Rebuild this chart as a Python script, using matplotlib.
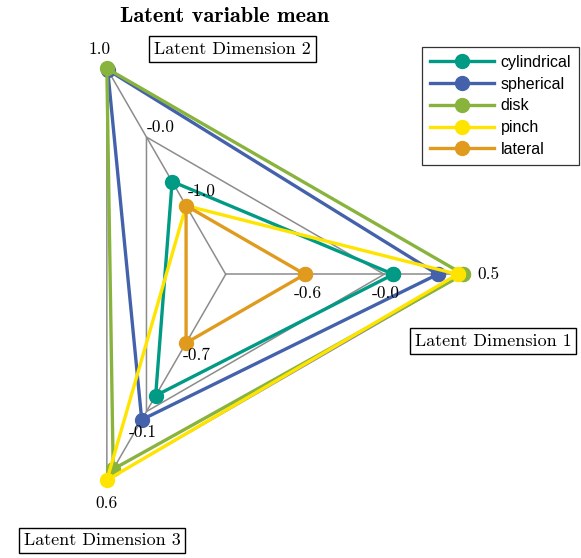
import matplotlib
matplotlib.use("Agg")
import matplotlib.pyplot as plt
import numpy as np

W, H, DPI = 581, 558, 100

axis_labels = ["Latent Dimension 1", "Latent Dimension 2", "Latent Dimension 3"]
axis_min = [-0.58, -0.97, -0.68]
axis_max = [0.53, 0.96, 0.57]

series = ["cylindrical", "spherical", "disk", "pinch", "lateral"]
values = {
    "cylindrical": [0.04, -0.63, -0.20],
    "spherical": [0.35, 0.94, 0.02],
    "disk": [0.53, 0.96, 0.47],
    "pinch": [0.49, -0.97, 0.57],
    "lateral": [-0.58, -0.97, -0.68],
}
colors = {
    "cylindrical": "#009A85",
    "spherical": "#4462AB",
    "disk": "#88B43D",
    "pinch": "#FFE400",
    "lateral": "#E09B1F",
}

# spider layout: centre in pixels, outer radius in pixels
cx, cy, R = 225.7, 274.3, 237.7
angles = np.deg2rad([0, 120, 240])
n_rings = 3  # inner ring (axis min), middle, outer (axis max)


def radius(v, i):
    frac = (v - axis_min[i]) / (axis_max[i] - axis_min[i])
    return (1 + frac * (n_rings - 1)) / n_rings


def to_xy(rs):
    rs = np.asarray(rs)
    return rs * np.cos(angles), rs * np.sin(angles)


fig = plt.figure(figsize=(W / DPI, H / DPI), dpi=DPI)
ax = fig.add_axes([0, 0, 1, 1])
ax.set_xlim(-cx / R, (W - cx) / R)
ax.set_ylim(-(H - cy) / R, cy / R)
ax.axis("off")

# grid: spokes and rings
for a in angles:
    ax.plot([0, np.cos(a)], [0, np.sin(a)], color="#8c8c8c", lw=1.1, zorder=1)
for k in range(1, n_rings + 1):
    gx, gy = to_xy([k / n_rings] * 3)
    ax.plot(np.append(gx, gx[0]), np.append(gy, gy[0]), color="#8c8c8c", lw=1.1, zorder=1)

for z, name in enumerate(series):
    rs = [radius(v, i) for i, v in enumerate(values[name])]
    x, y = to_xy(rs)
    ax.plot(np.append(x, x[0]), np.append(y, y[0]), color=colors[name], lw=2.4,
            marker="o", markersize=10, label=name, zorder=2 + z)

# ring value labels per axis, offsets in points
tick_offsets = [
    [(2, -14), (1, -14), (18, 0)],
    [(11, 10), (10, 7), (-5, 14)],
    [(8, -9), (-3, -15), (0, -17)],
]
for i in range(3):
    for k in range(n_rings):
        v = axis_min[i] + (axis_max[i] - axis_min[i]) * k / (n_rings - 1)
        r = (k + 1) / n_rings
        ax.annotate(f"{v:.1f}", (r * np.cos(angles[i]), r * np.sin(angles[i])),
                    xytext=tick_offsets[i][k], textcoords="offset points",
                    ha="center", va="center", fontsize=12.5, family="cmr10", zorder=10)

label_pos = [(493, 341), (232.5, 49), (102, 540.5)]
for text, (px, py) in zip(axis_labels, label_pos):
    fig.text(px / W, 1 - py / H, text, ha="center", va="center", fontsize=13,
             family="cmr10",
             bbox=dict(boxstyle="square,pad=0.28", fc="white", ec="black", lw=1))

fig.text(225 / W, 1 - 17 / H, "Latent variable mean", ha="center", va="center",
         fontsize=16, family="cmb10")

leg = ax.legend(loc="upper right", bbox_to_anchor=(579 / W, 1 - 47 / H),
                bbox_transform=fig.transFigure, borderaxespad=0, fancybox=False,
                framealpha=1, edgecolor="#333333", handlelength=4.0,
                handletextpad=0.4, labelspacing=0.42, borderpad=0.5,
                prop={"family": "Liberation Sans", "size": 11.5})
leg.get_frame().set_linewidth(0.9)

fig.savefig("out.png", dpi=DPI)
